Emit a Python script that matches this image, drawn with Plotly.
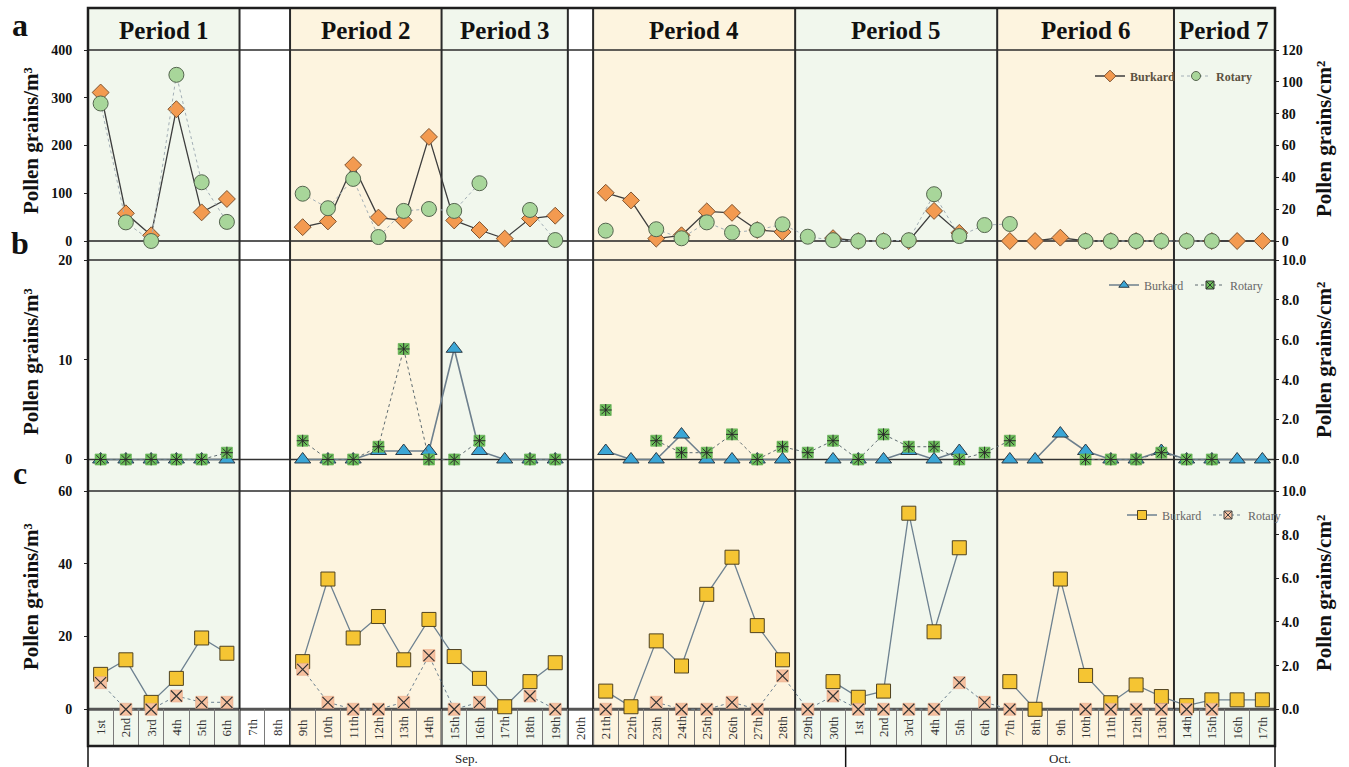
import plotly.graph_objects as go

# ---------------------------------------------------------------- categories
sep_days = ["1st", "2nd", "3rd", "4th", "5th", "6th", "7th", "8th", "9th", "10th",
            "11th", "12th", "13th", "14th", "15th", "16th", "17th", "18th", "19th", "20th",
            "21th", "22th", "23th", "24th", "25th", "26th", "27th", "28th", "29th", "30th"]
oct_days = ["1st", "2nd", "3rd", "4th", "5th", "6th", "7th", "8th", "9th", "10th",
            "11th", "12th", "13th", "14th", "15th", "16th", "17th"]
days = sep_days + oct_days
months = ["Sep.", "Oct."]

# sampling periods (first / last day index, inclusive)
period_names = ["Period 1", "Period 2", "Period 3", "Period 4", "Period 5", "Period 6", "Period 7"]
period_first = [0, 8, 14, 20, 28, 36, 43]
period_last = [5, 13, 18, 27, 35, 42, 46]

# ---------------------------------------------------------------- series
# (a) Burkard in pollen grains/m3, Rotary in pollen grains/cm2
a_burkard = [311, 58, 12, 276, 60, 88, None, None,
             29, 41, 159, 49, 43, 218,
             43, 23, 5, 47, 53, None,
             101, 85, 5, 12, 62, 59, 23, 19,
             None, 6, 0, 0, 0, 63, 17, None,
             0, 0, 7, 0, 0, 0, 0,
             0, 0, 0, 0]
a_rotary = [86.4, 11.7, 0, 104.4, 36.9, 12.0, None, None,
            29.7, 20.6, 39.0, 2.5, 18.9, 20.1,
            18.9, 36.3, None, 19.5, 0.6, None,
            6.5, None, 7.4, 1.7, 11.7, 5.3, 6.9, 10.5,
            2.7, 0.5, 0, 0, 0.5, 29.4, 3.1, 10.0,
            10.7, None, None, 0, 0, 0, 0,
            0, 0, None, None]

# (b)
b_burkard = [0, 0, 0, 0, 0, 0, None, None,
             0, 0, 0, 0.85, 0.85, 0.85,
             11.1, 0.85, 0, 0, 0, None,
             0.85, 0, 0, 2.5, 0, 0, 0, 0,
             None, 0, 0, 0, 0.85, 0, 0.85, None,
             0, 0, 2.6, 0.85, 0, 0, 0.85,
             0, 0, 0, 0]
b_rotary = [0, 0, 0, 0, 0, 0.34, None, None,
            0.94, 0, 0, 0.64, 5.54, 0,
            0, 0.94, None, 0, 0, None,
            2.48, None, 0.94, 0.34, 0.34, 1.26, 0, 0.64,
            0.34, 0.94, 0, 1.26, 0.64, 0.64, 0, 0.34,
            0.94, None, None, 0, 0, 0, 0.34,
            0, 0, None, None]

# (c)
c_burkard = [9.6, 13.6, 1.9, 8.5, 19.6, 15.4, None, None,
             13.1, 35.8, 19.6, 25.5, 13.6, 24.7,
             14.5, 8.5, 0.7, 7.6, 12.8, None,
             5.0, 0.7, 18.8, 11.9, 31.6, 41.8, 23.0, 13.6,
             None, 7.6, 3.3, 5.0, 53.9, 21.3, 44.4, None,
             7.6, 0, 35.8, 9.3, 1.8, 6.7, 3.5,
             1.0, 2.6, 2.6, 2.6]
c_rotary = [1.22, 0, 0, 0.61, 0.32, 0.32, None, None,
            1.83, 0.32, 0, 0, 0.32, 2.46,
            0, 0.32, None, 0.61, 0, None,
            0, None, 0.32, 0, 0, 0.32, 0, 1.53,
            0, 0.61, 0, 0, 0, 0, 1.22, 0.32,
            0, None, None, 0, 0, 0, 0,
            0, 0, None, None]

# ---------------------------------------------------------------- styling
SERIF = "Liberation Serif"
GREEN_BG = "#f1f7ed"
YELLOW_BG = "#fdf4df"
INK = "#111111"
N = len(days)
x = list(range(N))
x_range = [-0.5, N - 0.5]

W, H = 1349, 767
M_L, M_R, M_T, M_B = 88, 74, 8, 21
plot_h = H - M_T - M_B


def py(pix):
    """paper y for a pixel row"""
    return (H - M_B - pix) / plot_h


def px(pix):
    """paper x for a pixel column"""
    return (pix - M_L) / (W - M_L - M_R)


dom_a = [py(260), py(50)]
dom_b = [py(491), py(260)]
dom_c = [0.0, py(491)]

fig = go.Figure()


def series(y, xa, ya, legend, symbol, size, fill, edge, edge_w,
           line_color, line_w, dash="solid", mode="lines+markers", name=""):
    fig.add_trace(go.Scatter(
        x=x, y=y, xaxis=xa, yaxis=ya, name=name, legend=legend, mode=mode,
        connectgaps=False, showlegend=False,
        line=dict(color=line_color, width=line_w, dash=dash),
        marker=dict(symbol=symbol, size=size, color=fill,
                    line=dict(color=edge, width=edge_w)),
    ))


def key(name, xa, ya, legend, symbol, size, fill, edge, line_color, line_w, dash="solid"):
    """legend entry with a compact symbol"""
    fig.add_trace(go.Scatter(
        x=[None], y=[None], xaxis=xa, yaxis=ya, name=name, legend=legend,
        mode="lines+markers", showlegend=True,
        line=dict(color=line_color, width=line_w, dash=dash),
        marker=dict(symbol=symbol, size=size, color=fill, line=dict(color=edge, width=1)),
    ))


# panel a
series(a_burkard, "x", "y", "legend", "diamond", 13,
       "#f39a50", "#7d5330", 1, "#3d3d3d", 1.3, name="Burkard")
series(a_rotary, "x", "y2", "legend", "circle", 15,
       "#a8d69a", "#55654f", 1, "#a3afb6", 1, "3px,3px", name="Rotary")
key("Burkard", "x", "y", "legend", "diamond", 9, "#f39a50", "#7d5330", "#3d3d3d", 1.3)
key("Rotary", "x", "y2", "legend", "circle", 9, "#a8d69a", "#55654f", "#a3afb6", 1, "3px,3px")

# panel b
series(b_burkard, "x2", "y3", "legend2", "triangle-up", 14,
       "#3ba6d6", "#2c3a44", 1, "#6d7f8d", 1.6, name="Burkard")
series(b_rotary, "x2", "y4", "legend2", "square", 11,
       "#6cc05a", "#58a64a", 0.6, "#5e6b70", 1, "3px,3px", name="Rotary")
series(b_rotary, "x2", "y4", "legend2", "asterisk-open", 10,
       "#2a2a2a", "#2a2a2a", 1, "#5e6b70", 1, mode="markers", name="Rotary")
key("Burkard", "x2", "y3", "legend2", "triangle-up", 9, "#3ba6d6", "#2c3a44", "#6d7f8d", 1.3)
key("Rotary", "x2", "y4", "legend2", "square-x", 8, "#6cc05a", "#333333", "#5e6b70", 1, "3px,3px")

# panel c
series(c_burkard, "x3", "y5", "legend3", "square", 14,
       "#f5c533", "#4f4220", 1, "#6d8190", 1.3, name="Burkard")
series(c_rotary, "x3", "y6", "legend3", "square", 12,
       "#f6c1a0", "#eaaa88", 0.6, "#6d8190", 1, "3px,3px", name="Rotary")
series(c_rotary, "x3", "y6", "legend3", "x-thin-open", 11,
       "#333333", "#333333", 1.2, "#6d8190", 1, mode="markers", name="Rotary")
key("Burkard", "x3", "y5", "legend3", "square", 9, "#f5c533", "#4f4220", "#6d8190", 1.3)
key("Rotary", "x3", "y6", "legend3", "square-x", 8, "#f6c1a0", "#444444", "#6d8190", 1, "3px,3px")

# ---------------------------------------------------------------- axes
tick_font = dict(family=SERIF, size=14, color=INK, weight="bold")


def y_axis(rng, tickvals, side, anchor, domain=None, overlaying=None, fmt=None):
    ax = dict(range=rng, tickvals=tickvals, side=side, anchor=anchor,
              showgrid=False, zeroline=False, showline=False, automargin=False,
              ticks="outside", ticklen=3, tickwidth=1, tickcolor="#222",
              tickfont=tick_font, fixedrange=True)
    if side == "left":
        ax["ticklabelstandoff"] = 9
    if domain is not None:
        ax["domain"] = domain
    if overlaying:
        ax["overlaying"] = overlaying
    if fmt:
        ax["tickformat"] = fmt
    return ax


def x_axis(anchor, **extra):
    ax = dict(domain=[0, 1], range=x_range, anchor=anchor, showgrid=False,
              zeroline=False, showline=False, showticklabels=False, ticks="",
              automargin=False, fixedrange=True)
    ax.update(extra)
    return ax


fig.update_layout(
    xaxis=x_axis("y"),
    xaxis2=x_axis("y3"),
    xaxis3=x_axis("y5", ticks="inside", tickvals=[i + 0.5 for i in range(N - 1)],
                  ticklen=37, tickwidth=1, tickcolor="#7a7a7a"),
    yaxis=y_axis([-39.8, 400], [0, 100, 200, 300, 400], "left", "x", dom_a),
    yaxis2=y_axis([-11.94, 120], [0, 20, 40, 60, 80, 100, 120], "right", "x",
                  overlaying="y"),
    yaxis3=y_axis([-3.16, 20], [0, 10, 20], "left", "x2", dom_b),
    yaxis4=y_axis([-1.58, 10], [0, 2, 4, 6, 8, 10], "right", "x2",
                  overlaying="y3", fmt=".1f"),
    yaxis5=y_axis([-10.09, 60], [0, 20, 40, 60], "left", "x3", dom_c),
    yaxis6=y_axis([-1.682, 10], [0, 2, 4, 6, 8, 10], "right", "x3",
                  overlaying="y5", fmt=".1f"),
)

# ---------------------------------------------------------------- shapes
shapes = []
for i, (a0, a1) in enumerate(zip(period_first, period_last)):
    shapes.append(dict(type="rect", xref="x", yref="paper", x0=a0 - 0.5, x1=a1 + 0.5,
                       y0=0, y1=1, fillcolor=GREEN_BG if i % 2 == 0 else YELLOW_BG,
                       line=dict(width=0), layer="below"))

# panel top rules
for top in (dom_a[1], dom_b[1], dom_c[1]):
    shapes.append(dict(type="line", xref="paper", yref="paper", x0=0, x1=1, y0=top, y1=top,
                       line=dict(color="#2b2b2b", width=1.3), layer="below"))
# zero lines
for ref, w, col in (("y", 1.5, "#222222"), ("y3", 1.5, "#333333"), ("y5", 3, "#555555")):
    shapes.append(dict(type="line", xref="paper", yref=ref, x0=0, x1=1, y0=0, y1=0,
                       line=dict(color=col, width=w), layer="below"))

# period boundaries
bounds = sorted({b for a0, a1 in zip(period_first, period_last) for b in (a0 - 0.5, a1 + 0.5)})
for b in bounds:
    if x_range[0] < b < x_range[1]:
        shapes.append(dict(type="line", xref="x", yref="paper", x0=b, x1=b, y0=0, y1=1,
                           line=dict(color="#2a2a2a", width=2), layer="below"))

# outer frame
shapes.append(dict(type="rect", xref="paper", yref="paper", x0=0, x1=1, y0=0, y1=1,
                   line=dict(color="#1e1e1e", width=2.5), layer="above"))

# month row under the date labels
month_bottom = -M_B / plot_h
sep_end = len(sep_days) - 0.5
shapes.append(dict(type="line", xref="paper", yref="paper", x0=0, x1=0, y0=month_bottom, y1=0,
                   line=dict(color=INK, width=1.5)))
shapes.append(dict(type="line", xref="paper", yref="paper", x0=1, x1=1, y0=month_bottom, y1=0,
                   line=dict(color=INK, width=1.5)))
shapes.append(dict(type="line", xref="x", yref="paper", x0=sep_end, x1=sep_end,
                   y0=month_bottom, y1=0, line=dict(color=INK, width=1.5)))

# ---------------------------------------------------------------- annotations
ann = []
for name, a0, a1 in zip(period_names, period_first, period_last):
    ann.append(dict(text=name, xref="x", yref="paper", x=(a0 + a1) / 2, y=py(30),
                    showarrow=False, xanchor="center", yanchor="middle",
                    font=dict(family=SERIF, size=25, color=INK, weight="bold")))

for letter, ypix in (("a", 25), ("b", 243), ("c", 473)):
    ann.append(dict(text=letter, xref="paper", yref="paper", x=px(20), y=py(ypix),
                    showarrow=False, xanchor="center", yanchor="middle",
                    font=dict(family=SERIF, size=32, color=INK, weight="bold")))

title_font = dict(family=SERIF, size=21, color=INK, weight="bold")
for ypix in (141, 362, 597):
    ann.append(dict(text="Pollen grains/m³", xref="paper", yref="paper",
                    x=px(31), y=py(ypix), textangle=-90, showarrow=False,
                    xanchor="center", yanchor="middle", font=title_font))
for ypix in (139, 360, 593):
    ann.append(dict(text="Pollen grains/cm²", xref="paper", yref="paper",
                    x=px(1324), y=py(ypix), textangle=-90, showarrow=False,
                    xanchor="center", yanchor="middle", font=title_font))

for i, lab in enumerate(days):
    ann.append(dict(text=lab, xref="x3", yref="y5", x=i, y=-5.0, textangle=-90,
                    showarrow=False, xanchor="center", yanchor="middle",
                    font=dict(family=SERIF, size=13, color="#333333")))

month_centres = [(len(sep_days) - 1) / 2, len(sep_days) + (len(oct_days) - 1) / 2]
for m, cx in zip(months, month_centres):
    ann.append(dict(text=m, xref="x3", yref="paper", x=cx, y=py(758), showarrow=False,
                    xanchor="center", yanchor="middle",
                    font=dict(family=SERIF, size=13, color="#222222")))

legend_common = dict(orientation="h", xanchor="left", yanchor="middle",
                     bgcolor="rgba(0,0,0,0)", borderwidth=0, itemwidth=30,
                     tracegroupgap=0, entrywidthmode="pixels", entrywidth=41)

fig.update_layout(
    width=W, height=H,
    margin=dict(l=M_L, r=M_R, t=M_T, b=M_B, pad=0, autoexpand=False),
    paper_bgcolor="white", plot_bgcolor="rgba(0,0,0,0)",
    shapes=shapes, annotations=ann,
    legend=dict(x=px(1090), y=py(76),
                font=dict(family=SERIF, size=12, color="#5b5242", weight="bold"),
                **legend_common),
    legend2=dict(x=px(1104), y=py(285),
                 font=dict(family=SERIF, size=12, color="#666666"), **legend_common),
    legend3=dict(x=px(1122), y=py(515),
                 font=dict(family=SERIF, size=12, color="#666666"), **legend_common),
    font=dict(family=SERIF),
)

fig.write_html("out.html")
